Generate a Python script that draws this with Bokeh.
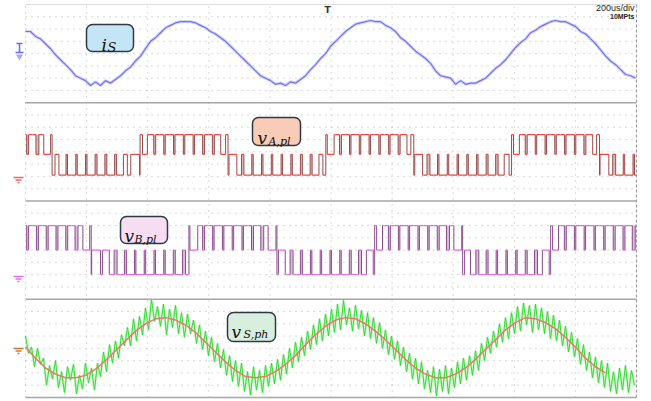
import numpy as np
from bokeh.plotting import figure
from bokeh.models import Range1d
from bokeh.embed import file_html
from bokeh.resources import INLINE
from bokeh.core.properties import value

# ---------------- data ----------------
US_PER_DIV = 200.0          # 200us/div
N_DIV_X = 10
PANEL_DIV = 8               # vertical divisions per channel strip
N_PANEL = 4

# channel 1: i_S (div), one sample every 16.37 us
i_s_dt = 16.37
i_s = [1.8, 1.8, 1.4, 1.2, 0.8, 0.4, -0.1, -0.5, -0.9, -1.3,
       -1.8, -2.0, -2.2, -2.6, -2.3, -2.6, -2.2, -2.4, -2.1, -1.8,
       -1.4, -1.1, -0.6, -0.2, 0.4, 1.0, 1.3, 1.7, 2.1, 2.3,
       2.5, 2.6, 2.6, 2.6, 2.5, 2.3, 2.1, 1.8, 1.6, 1.3,
       1.0, 0.6, 0.2, -0.2, -0.6, -1.0, -1.4, -1.8, -2.0, -2.2,
       -2.5, -2.4, -2.6, -2.3, -2.4, -2.1, -1.8, -1.3, -0.9, -0.4,
       0.0, 0.6, 1.0, 1.4, 1.8, 2.1, 2.4, 2.5, 2.6, 2.7,
       2.6, 2.6, 2.3, 2.1, 1.8, 1.3, 1.0, 0.6, 0.2, -0.1,
       -0.4, -0.8, -1.4, -1.8, -1.9, -2.0, -2.5, -2.2, -2.5, -2.4,
       -2.4, -2.2, -2.0, -1.6, -1.2, -0.9, -0.5, 0.0, 0.5, 0.9,
       1.2, 1.7, 1.9, 2.2, 2.4, 2.6, 2.7, 2.6, 2.6, 2.4,
       2.2, 1.8, 1.6, 1.2, 0.8, 0.3, -0.2, -0.6, -0.9, -1.3,
       -1.7, -1.8, -2.0]

# channels 2 / 3: multilevel PWM, signed duty per carrier period
carrier_T = 32.0
carrier_t0 = 7.0
va_levels = (1.4, -0.2, -1.9)     # top, mid, bottom (div)
va_duty = [0.8, 0.7, 0.3, -0.6, -0.85, -0.85, -0.85, -0.8, -0.8, -0.8,
           -0.6, -0.1, 0.5, 0.8, 0.85, 0.85, 0.85, 0.85, 0.8, 0.8,
           0.5, -0.2, -0.75, -0.85, -0.85, -0.85, -0.85, -0.85, -0.8, -0.8,
           -0.6, 0.3, 0.8, 0.85, 0.85, 0.85, 0.85, 0.85, 0.8, 0.6,
           -0.2, -0.7, -0.85, -0.85, -0.85, -0.85, -0.85, -0.8, -0.75, -0.5,
           0.4, 0.8, 0.85, 0.85, 0.85, 0.85, 0.85, 0.8, 0.6, -0.1,
           -0.7, -0.85, -0.85]
vb_levels = (2.0, 0.0, -2.0)
vb_duty = [0.8, 0.8, 0.8, 0.8, 0.8, 0.7, 0.3, -0.1, -0.3, -0.7,
           -0.8, -0.85, -0.85, -0.85, -0.85, -0.8, -0.7, 0.2, 0.8, 0.85,
           0.85, 0.85, 0.85, 0.8, 0.7, 0.2, -0.3, -0.7, -0.8, -0.85,
           -0.85, -0.85, -0.85, -0.8, -0.7, -0.3, 0.4, 0.8, 0.85, 0.85,
           0.85, 0.85, 0.8, 0.7, 0.2, -0.4, -0.7, -0.8, -0.85, -0.85,
           -0.85, -0.8, -0.7, -0.3, 0.4, 0.8, 0.85, 0.85, 0.85, 0.85,
           0.8, 0.8, 0.7]

# channel 4: v_S,ph raw (green, every 9.82 us) and filtered (red, every 32.73 us)
vs_dt = 9.82
v_sph = [1.0, -0.4, 0.1, -1.5, 0.0, -1.3, -0.8, -3.0, -1.4, -2.5,
         -1.0, -3.2, -1.9, -3.6, -1.5, -2.6, -1.3, -3.7, -2.2, -3.3,
         -1.2, -2.8, -1.6, -3.4, -1.2, -2.3, -0.3, -1.9, 0.3, -1.2,
         0.6, -0.8, 1.1, 0.2, 1.7, 0.2, 2.4, 0.6, 2.6, 1.1,
         3.3, 1.5, 4.0, 2.2, 3.4, 1.8, 3.6, 1.1, 3.2, 1.7,
         3.5, 1.2, 2.9, 0.9, 2.8, 1.2, 2.3, 0.4, 1.9, -0.1,
         1.4, -0.6, 0.9, -1.1, 0.4, -1.6, -0.1, -2.2, -0.6, -2.7,
         -1.0, -3.1, -1.2, -3.5, -1.9, -3.8, -1.5, -3.4, -1.8, -3.6,
         -1.4, -3.1, -1.2, -2.9, -0.9, -2.6, -0.5, -2.1, 0.0, -1.6,
         0.5, -1.1, 0.9, -0.6, 1.4, -0.1, 1.9, 0.3, 2.4, 0.6,
         2.8, 1.0, 3.2, 1.3, 3.6, 1.5, 3.9, 1.9, 3.3, 1.4,
         3.5, 1.6, 3.1, 1.0, 2.9, 0.8, 2.5, 0.4, 2.1, 0.0,
         1.5, -0.5, 1.0, -0.9, 0.6, -1.4, 0.1, -1.9, -0.4, -2.5,
         -0.8, -2.9, -1.1, -3.3, -1.8, -3.6, -1.5, -3.9, -1.7, -3.5,
         -1.4, -3.7, -1.6, -3.2, -1.1, -2.9, -0.8, -2.6, -0.6, -2.2,
         -0.2, -1.8, 0.4, -1.0, 0.9, -0.4, 1.4, 0.1, 2.0, 0.5,
         2.5, 0.8, 2.9, 1.2, 3.4, 1.4, 3.7, 1.9, 3.5, 1.3,
         3.6, 1.5, 3.3, 1.2, 3.0, 0.8, 2.7, 0.6, 2.3, 0.2,
         1.8, -0.3, 1.3, -0.7, 0.8, -1.3, 0.3, -1.8, -0.3, -2.4,
         -0.7, -2.8, -1.0, -3.2, -1.2, -3.5, -1.9, -3.7, -1.6, -3.4,
         -1.4, -3.6, -1.8, -3.0]
vf_dt = 32.73
v_sph_fund = [0.1, -0.8, -1.6, -2.1, -2.4, -2.4, -2.2, -1.7, -1.0, -0.2,
              0.6, 1.4, 2.0, 2.4, 2.5, 2.3, 1.9, 1.3, 0.5, -0.3,
              -1.1, -1.8, -2.3, -2.4, -2.3, -1.9, -1.3, -0.6, 0.3, 1.1,
              1.8, 2.3, 2.5, 2.4, 2.0, 1.4, 0.7, -0.1, -0.9, -1.6,
              -2.1, -2.4, -2.4, -2.1, -1.6, -0.9, -0.1, 0.7, 1.5, 2.1,
              2.5, 2.4, 2.1, 1.6, 0.9, 0.1, -0.8, -1.5, -2.0]

# ---------------- layout ----------------
T_END = US_PER_DIV * N_DIV_X
Y_TOP = PANEL_DIV * N_PANEL
centers = [Y_TOP - PANEL_DIV * (k + 0.5) for k in range(N_PANEL)]
W, H = 650, 400
PX_PER_DIV = 61.1
us_per_px = US_PER_DIV / PX_PER_DIV


def rx(px):  # screenshot x pixel -> time
    return (px - 25) * us_per_px


def ry(py):  # screenshot y pixel -> vertical div
    return Y_TOP - (py - 4) / 12.28


p = figure(width=W, height=H, output_backend="svg", toolbar_location=None,
           x_range=Range1d(rx(0), rx(W)), y_range=Range1d(ry(H), ry(0)),
           x_axis_location=None, y_axis_location=None, min_border=0)
p.grid.visible = False
p.outline_line_color = None
p.background_fill_color = "white"
p.border_fill_color = "white"

# dotted graticule
hy = [c - PANEL_DIV / 2 + j for c in centers for j in range(1, PANEL_DIV)]
p.segment(x0=[0] * len(hy), x1=[T_END] * len(hy), y0=hy, y1=hy,
          line_color="#b4b4b4", line_width=1, line_dash="1 5")
vx = [US_PER_DIV * j for j in range(N_DIV_X)]
p.segment(x0=vx, x1=vx, y0=[0] * len(vx), y1=[Y_TOP] * len(vx),
          line_color="#b4b4b4", line_width=1, line_dash="1 5")
p.segment(x0=[T_END], x1=[T_END], y0=[0], y1=[Y_TOP], line_color="#9c9c9c",
          line_width=1.2, line_dash="3 2")
sep = [PANEL_DIV * k for k in range(0, N_PANEL)]
p.segment(x0=[0] * len(sep), x1=[T_END] * len(sep), y0=sep, y1=sep,
          line_color="#a6a6a6", line_width=1.6)
p.segment(x0=[0], x1=[T_END], y0=[Y_TOP], y1=[Y_TOP], line_color="#dcdcdc", line_width=1)

# channel 1
t1 = np.arange(len(i_s)) * i_s_dt
y1 = np.array(i_s) + centers[0]
p.line(t1, y1, line_color="#c4c4fa", line_width=3.2, line_alpha=0.7)
p.line(t1, y1, line_color="#7272f2", line_width=1.2)


def pwm(duty, lv, off, hcol, vcol, fcol):
    top, mid, bot = lv
    ts, ys, fills = [], [], []
    for k, s in enumerate(duty):
        c = carrier_t0 + k * carrier_T
        outer = top if s > 0 else bot
        hw = (1 - abs(s)) * carrier_T / 2
        ts += [c - carrier_T / 2, c - hw, c + hw]
        ys += [outer, mid, outer]
        if hw < 0.2 * carrier_T and abs(s) > 0:
            fills.append((c - hw, c + hw, min(outer, mid), max(outer, mid)))
    ts.append(carrier_t0 + len(duty) * carrier_T - carrier_T / 2)
    hx0, hx1, hyy, vxx, vy0, vy1 = [], [], [], [], [], []
    for i in range(len(ys)):
        a, b = max(ts[i], 0), min(ts[i + 1], T_END)
        if b > a:
            hx0.append(a); hx1.append(b); hyy.append(ys[i] + off)
        if i > 0 and ys[i] != ys[i - 1] and 0 <= ts[i] <= T_END:
            vxx.append(ts[i]); vy0.append(ys[i - 1] + off); vy1.append(ys[i] + off)
    fl = [f for f in fills if f[0] >= 0 and f[1] <= T_END]
    p.quad(left=[f[0] for f in fl], right=[f[1] for f in fl],
           bottom=[f[2] + off for f in fl], top=[f[3] + off for f in fl],
           fill_color=fcol, fill_alpha=0.5, line_color=None)
    p.segment(x0=vxx, x1=vxx, y0=vy0, y1=vy1, line_color=vcol, line_width=1.0)
    p.segment(x0=hx0, x1=hx1, y0=hyy, y1=hyy, line_color=hcol, line_width=1.2)


pwm(va_duty, va_levels, centers[1], "#ee4444", "#9a4a4a", "#b07c7c")
pwm(vb_duty, vb_levels, centers[2], "#e468e4", "#8c4a8c", "#b088b0")

# channel 4
t4 = np.arange(len(v_sph)) * vs_dt
y4 = np.array(v_sph) + centers[3]
p.line(t4, y4, line_color="#b8f4b8", line_width=2.6, line_alpha=0.7)
p.line(t4, y4, line_color="#30dc30", line_width=1.0)
tf = np.arange(len(v_sph_fund)) * vf_dt
p.line(tf, np.array(v_sph_fund) + centers[3], line_color="#f07272", line_width=1.5)

# channel ground markers
p.segment(x0=[rx(19)], x1=[rx(19)], y0=[ry(43)], y1=[ry(52)], line_color="#6a6af0", line_width=1.5)
p.segment(x0=[rx(16), rx(15)], x1=[rx(22), rx(23)], y0=[ry(43), ry(52)], y1=[ry(43), ry(52)],
          line_color="#6a6af0", line_width=1.5)
p.scatter([rx(19)], [ry(56)], marker="inverted_triangle", size=7, fill_color="#a8a8f4", line_color=None)
for yy, col in [(177, "#f06464"), (276, "#e070e0"), (348, "#c07c30")]:
    p.segment(x0=[rx(13), rx(15), rx(17)], x1=[rx(23), rx(21), rx(19)],
              y0=[ry(yy), ry(yy + 2.5), ry(yy + 5)], y1=[ry(yy), ry(yy + 2.5), ry(yy + 5)],
              line_color=col, line_width=1.4)

# header texts
p.text(x=[rx(634)], y=[ry(7.5)], text=["200us/div"], text_align="right", text_baseline="middle",
       text_font=value("Liberation Sans"), text_font_size="9px", text_color="#222222")
p.text(x=[rx(634)], y=[ry(16)], text=["10MPts"], text_align="right", text_baseline="middle",
       text_font=value("Liberation Sans"), text_font_size="7px", text_font_style="bold",
       text_color="#222222")
p.text(x=[rx(327)], y=[ry(9)], text=["T"], text_align="center", text_baseline="middle",
       text_font=value("DejaVu Sans"), text_font_size="9px", text_font_style="bold",
       text_color="#333333")

# signal name boxes
boxes = [
    ((86, 24, 133, 51), "#c3e5f5", "i", (101, 44), "S", (107, 47), "13px"),
    ((252, 117, 300, 145), "#f8ccb6", "v", (257, 137), "A,pl", (268, 141), "11px"),
    ((120, 216, 167, 243), "#f7ddf1", "v", (124, 235), "B,pl", (134, 239), "11px"),
    ((227, 312, 275, 341), "#d9efdd", "v", (231, 331), "S,ph", (243, 334), "11px"),
]
for (l, t, r, b), fc, main, (mx, my), sub, (sx, sy), ss in boxes:
    p.quad(left=[rx(l)], right=[rx(r)], top=[ry(t)], bottom=[ry(b)], fill_color=fc,
           line_color="#2c3a48", line_width=1.5, border_radius=6)
    p.text(x=[rx(mx)], y=[ry(my)], text=[main], text_font=value("DejaVu Serif"),
           text_font_style="italic", text_font_size="17px", text_color="#111111",
           text_baseline="alphabetic")
    p.text(x=[rx(sx)], y=[ry(sy)], text=[sub], text_font=value("DejaVu Serif"),
           text_font_style="italic", text_font_size=ss, text_color="#111111",
           text_baseline="alphabetic")

open("out.html", "w").write(file_html(p, INLINE))
